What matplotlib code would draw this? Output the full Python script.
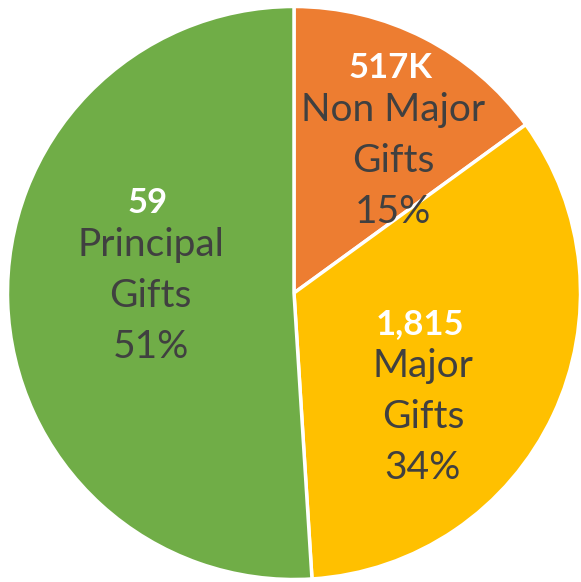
import matplotlib.pyplot as plt

labels = [['Non Major', 'Gifts'], ['Major', 'Gifts'], ['Principal', 'Gifts']]
counts = ['517K', '1,815', '59']
shares = [15, 34, 51]
colors = ['#ED7D31', '#FFC000', '#70AD47']

# hand placed centre of first grey line (axes units, pie radius = 1)
label_pos = [(0.346, 0.64), (0.45, -0.255), (-0.50, 0.168)]

plt.rcParams['font.family'] = ['Lato', 'DejaVu Sans']

fig = plt.figure(figsize=(5.81, 5.82), dpi=100)
ax = fig.add_axes([0, 0, 1, 1])
ax.pie(shares, colors=colors, startangle=90, counterclock=False,
       wedgeprops=dict(edgecolor='white', linewidth=2.5))

step = 0.178
for lab, cnt, sh, (x, y) in zip(labels, counts, shares, label_pos):
    ax.text(x - 0.01, y + 0.145, cnt, ha='center', va='center', fontsize=25,
            fontweight='bold', color='white')
    lines = lab + ["{}%".format(sh)]
    for i, line in enumerate(lines):
        ax.text(x, y - i * step, line, ha='center', va='center',
                fontsize=28, color='#404040')

r = 286.5
ax.set_xlim(-294 / r, (581 - 294) / r)
ax.set_ylim(-(582 - 293) / r, 293 / r)
ax.axis('off')
plt.savefig('out.png', dpi=100)
